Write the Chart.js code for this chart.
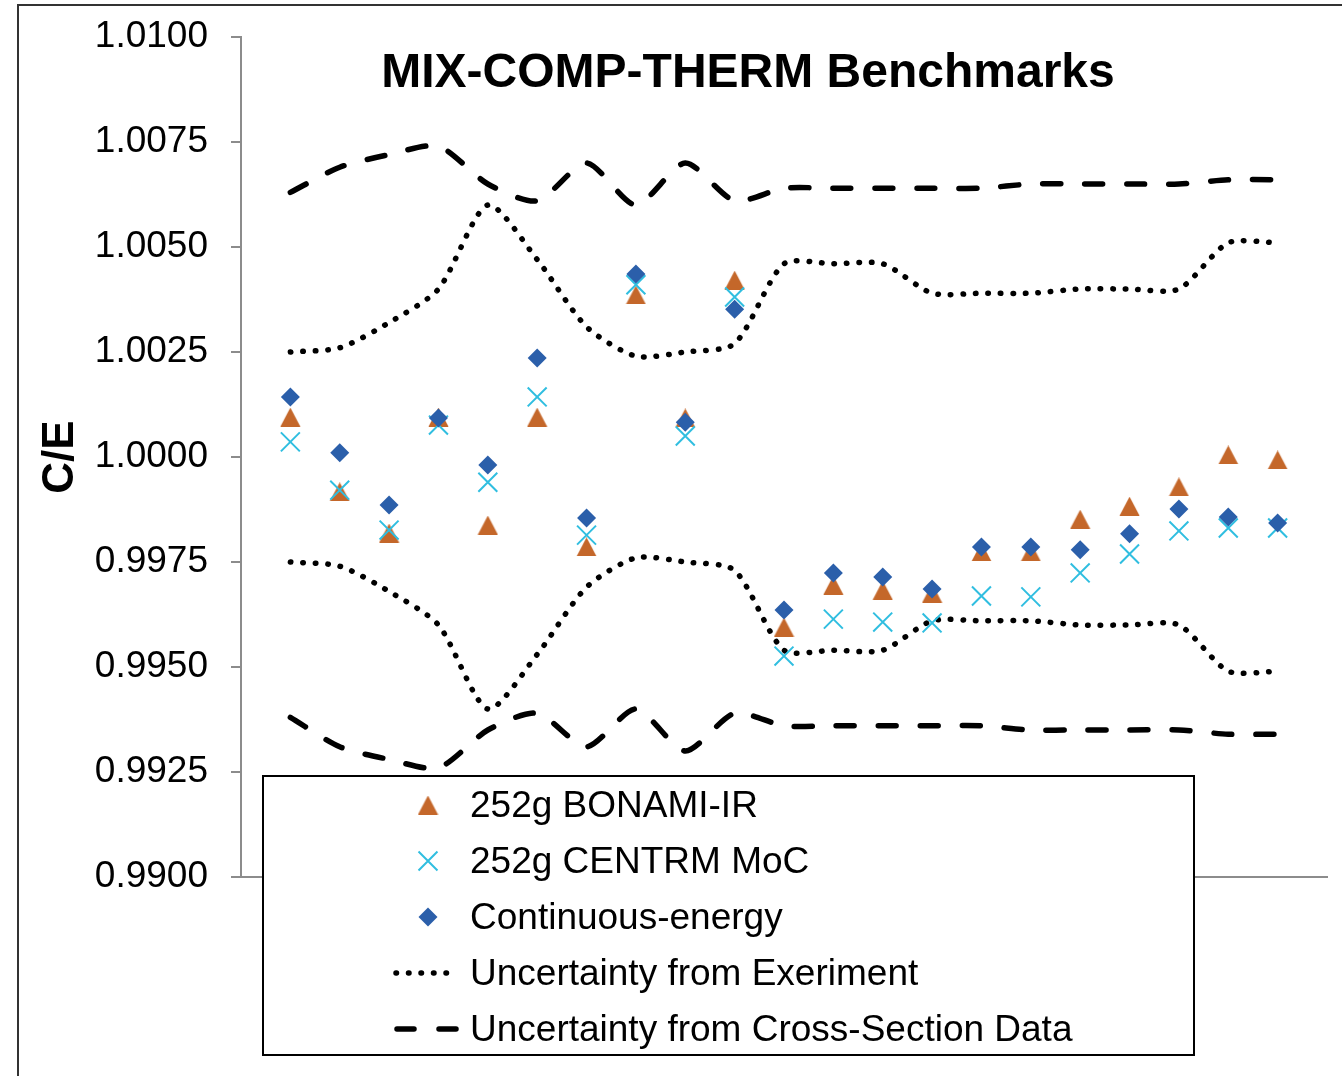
<!DOCTYPE html>
<html>
<head>
<meta charset="utf-8">
<title>MIX-COMP-THERM Benchmarks</title>
<script src="https://cdn.jsdelivr.net/npm/chart.js@4.4.1/dist/chart.umd.min.js"></script>
<style>
  html, body { margin: 0; padding: 0; background: #fff; }
  canvas { display: block; }
</style>
</head>
<body>
<canvas id="ceChart" width="1342" height="1076"></canvas>
<script>
// benchmark case number (x position)
const cases = [1, 2, 3, 4, 5, 6, 7, 8, 9, 10, 11, 12, 13, 14, 15, 16, 17, 18, 19, 20, 21];

// C/E per case
const bonamiIR = [1.00095, 0.99917, 0.99819, 1.00095, 0.99838, 1.00095, 0.99786, 1.00386, 1.00093, 1.00421, 0.99595,
                  0.99695, 0.99683, 0.99676, 0.99774, 0.99774, 0.99852, 0.99883, 0.99929, 1.00005, 0.99993];
const centrmMoC = [1.00036, 0.99921, 0.99826, 1.00076, 0.99940, 1.00143, 0.99814, 1.00410, 1.00050, 1.00381, 0.99526,
                   0.99614, 0.99607, 0.99605, 0.99669, 0.99667, 0.99724, 0.99769, 0.99824, 0.99831, 0.99831];
const contEnergy = [1.00143, 1.00010, 0.99886, 1.00093, 0.99981, 1.00236, 0.99855, 1.00436, 1.00083, 1.00352, 0.99636,
                    0.99724, 0.99714, 0.99686, 0.99786, 0.99786, 0.99779, 0.99817, 0.99876, 0.99857, 0.99843];

// uncertainty bands
const expUpper = [1.0025, 1.0026, 1.0032, 1.0040, 1.0060, 1.0047, 1.0031, 1.0024, 1.0025, 1.0027, 1.0046,
                  1.0046, 1.0046, 1.0039, 1.0039, 1.0039, 1.0040, 1.0040, 1.0040, 1.0051, 1.0051];
const expLower = [0.9975, 0.9974, 0.9968, 0.9960, 0.9940, 0.9953, 0.9969, 0.9976, 0.9975, 0.9973, 0.9954,
                  0.9954, 0.9954, 0.9961, 0.9961, 0.9961, 0.9960, 0.9960, 0.9960, 0.9949, 0.9949];
const xsUpper = [1.0063, 1.0069, 1.0072, 1.0074, 1.0065, 1.0061, 1.0070, 1.0060, 1.0070, 1.0061, 1.0064,
                 1.0064, 1.0064, 1.0064, 1.0064, 1.0065, 1.0065, 1.0065, 1.0065, 1.0066, 1.0066];
const xsLower = [0.9938, 0.9931, 0.9928, 0.9926, 0.9935, 0.9939, 0.9931, 0.9940, 0.9930, 0.9939, 0.9936,
                 0.9936, 0.9936, 0.9936, 0.9936, 0.9935, 0.9935, 0.9935, 0.9935, 0.9934, 0.9934];

const yTicks = [0.9900, 0.9925, 0.9950, 0.9975, 1.0000, 1.0025, 1.0050, 1.0075, 1.0100];

const FONT = 'Liberation Sans, Arial, sans-serif';
const ORANGE = '#c4672a';
const CYAN = '#30bee0';
const BLUE = '#2b5faa';

// triangle marker with its box centred on the value
function makeTriangle(color) {
  const c = document.createElement('canvas');
  c.width = 21;
  c.height = 19;
  const g = c.getContext('2d');
  g.fillStyle = color;
  g.beginPath();
  g.moveTo(0.5, 19);
  g.lineTo(10.5, 0);
  g.lineTo(20.5, 19);
  g.closePath();
  g.fill();
  return c;
}
const triangle = makeTriangle(ORANGE);

const pts = arr => arr.map((v, i) => ({ x: cases[i], y: v }));

const markerSets = [
  { label: '252g BONAMI-IR', data: pts(bonamiIR), pointStyle: triangle, pointRadius: 10,
    backgroundColor: ORANGE, borderColor: ORANGE, pointBorderWidth: 0, order: 3 },
  { label: '252g CENTRM MoC', data: pts(centrmMoC), pointStyle: 'crossRot', pointRadius: 13.4,
    backgroundColor: CYAN, borderColor: CYAN, pointBorderWidth: 2, order: 2 },
  { label: 'Continuous-energy', data: pts(contEnergy), pointStyle: 'rectRot', pointRadius: 9.5,
    backgroundColor: BLUE, borderColor: BLUE, pointBorderWidth: 0, order: 1 }
].map(d => Object.assign({ showLine: false }, d));

function band(label, data, dash, width) {
  return {
    label, data: pts(data), showLine: true, pointRadius: 0, fill: false,
    borderColor: '#000', borderWidth: width, borderDash: dash, borderCapStyle: 'round',
    tension: 0.25, order: 5
  };
}

const DOTS = [0.5, 12];
const DASHES = [18, 24];
const lineSets = [
  band('Uncertainty from Exeriment', expUpper, DOTS, 5.5),
  band('Uncertainty from Exeriment', expLower, DOTS, 5.5),
  band('Uncertainty from Cross-Section Data', xsUpper, DASHES, 5.5),
  band('Uncertainty from Cross-Section Data', xsLower, DASHES, 5.5)
];

// title, outer frame and legend box are drawn over the plot
const overlay = {
  id: 'overlay',
  afterDraw(chart) {
    const ctx = chart.ctx;
    ctx.save();

    ctx.strokeStyle = '#333';
    ctx.lineWidth = 2;
    ctx.strokeRect(18, 5, 1500, 1200);

    ctx.fillStyle = '#000';
    ctx.font = 'bold 48px ' + FONT;
    ctx.textAlign = 'center';
    ctx.textBaseline = 'middle';
    ctx.fillText('MIX-COMP-THERM Benchmarks', 748, 74);

    // legend
    ctx.fillStyle = '#fff';
    ctx.fillRect(263, 776, 931, 279);
    ctx.strokeStyle = '#000';
    ctx.lineWidth = 2;
    ctx.strokeRect(263, 776, 931, 279);

    const rowY = [805, 861, 917, 973, 1029];
    const mx = 428;
    markerSets.forEach((d, i) => {
      ctx.fillStyle = d.backgroundColor;
      ctx.strokeStyle = d.borderColor;
      ctx.lineWidth = d.pointBorderWidth;
      Chart.helpers.drawPoint(ctx, {
        pointStyle: d.pointStyle, radius: d.pointRadius, rotation: 0, borderWidth: d.pointBorderWidth
      }, mx, rowY[i]);
    });

    ctx.strokeStyle = '#000';
    ctx.lineCap = 'round';
    ctx.lineWidth = 5.5;
    ctx.setLineDash(DOTS);
    ctx.beginPath();
    ctx.moveTo(396, rowY[3]);
    ctx.lineTo(458, rowY[3]);
    ctx.stroke();

    ctx.setLineDash([17, 25]);
    ctx.beginPath();
    ctx.moveTo(397, rowY[4]);
    ctx.lineTo(456, rowY[4]);
    ctx.stroke();
    ctx.setLineDash([]);

    const labels = [markerSets[0].label, markerSets[1].label, markerSets[2].label,
                    lineSets[0].label, lineSets[2].label];
    ctx.fillStyle = '#000';
    ctx.font = '37px ' + FONT;
    ctx.textAlign = 'left';
    labels.forEach((t, i) => ctx.fillText(t, 470, rowY[i] + 2));

    ctx.restore();
  }
};

new Chart(document.getElementById('ceChart'), {
  type: 'scatter',
  data: { datasets: markerSets.concat(lineSets) },
  options: {
    responsive: false,
    animation: false,
    events: [],
    layout: { autoPadding: false, padding: { left: 0, top: 37, right: 15, bottom: 199 } },
    plugins: {
      legend: { display: false },
      tooltip: { enabled: false },
      title: { display: false }
    },
    scales: {
      x: {
        type: 'linear', min: 0, max: 22,
        ticks: { display: false },
        grid: { display: false, drawTicks: false },
        border: { display: true, color: '#8c8c8c', width: 2 },
        afterFit: s => { s.height = 0; }
      },
      y: {
        min: yTicks[0], max: yTicks[yTicks.length - 1],
        afterBuildTicks: s => { s.ticks = yTicks.map(v => ({ value: v })); },
        ticks: {
          padding: 23, color: '#000',
          font: { family: FONT, size: 37 },
          callback: v => Number(v).toFixed(4)
        },
        grid: { drawOnChartArea: false, drawTicks: true, tickLength: 10, color: '#8c8c8c', lineWidth: 2 },
        border: { display: true, color: '#8c8c8c', width: 2 },
        title: {
          display: true, text: 'C/E', color: '#000',
          font: { family: FONT, size: 44, weight: 'bold', lineHeight: 1.2 },
          padding: { top: 34, bottom: 0 }
        },
        afterFit: s => {
          s.width = 241;
          // the plot edges come from the layout padding alone
          s.paddingTop = 0;
          s.paddingBottom = 0;
        }
      }
    }
  },
  plugins: [overlay]
});
</script>
</body>
</html>
